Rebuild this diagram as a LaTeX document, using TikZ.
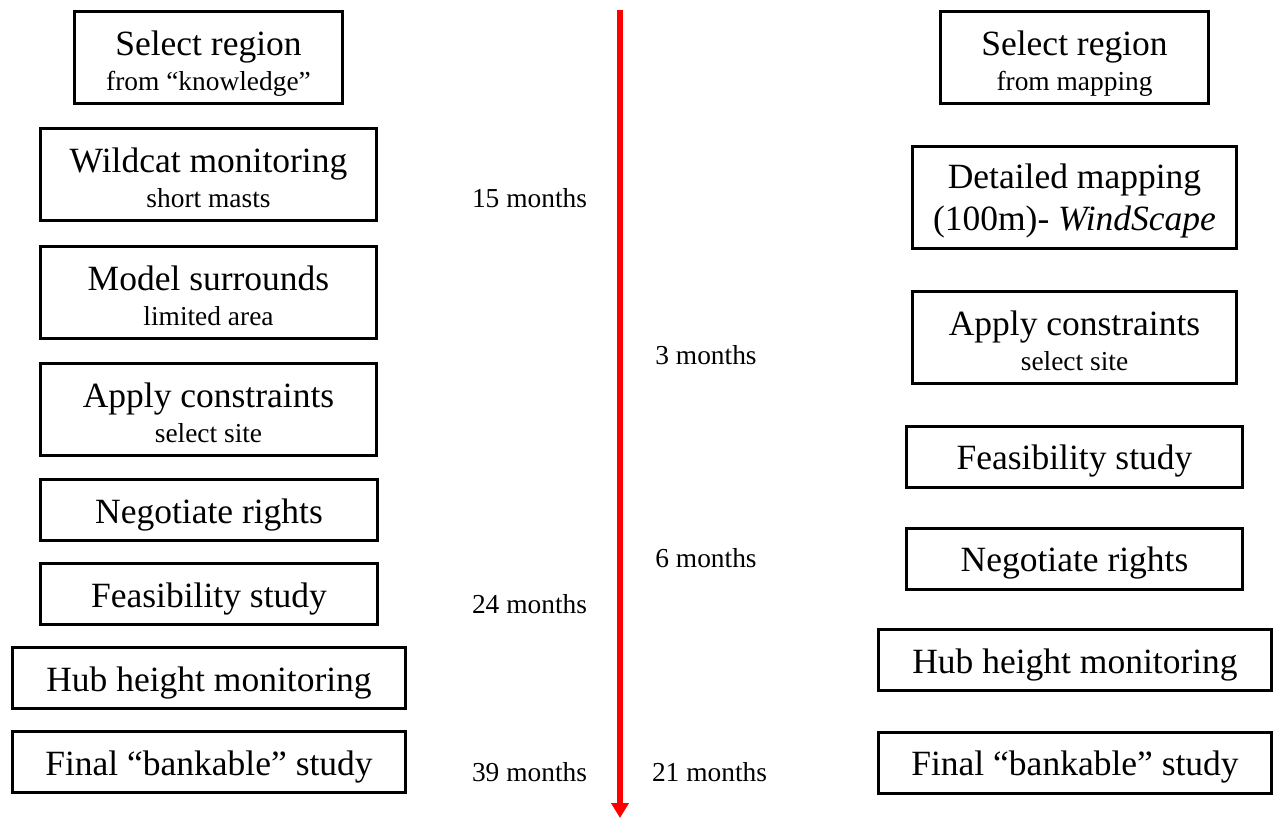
\documentclass[tikz,border=0pt]{standalone}
\usepackage{fontspec}
\setmainfont{Liberation Serif}
\usetikzlibrary{arrows.meta}
\newcommand{\subsz}{\fontsize{27.4}{35}\selectfont}
\begin{document}
\begin{tikzpicture}[x=1pt,y=-1pt,
  box/.style={draw=black,line width=3pt,inner sep=0pt,align=center,
    font=\fontsize{35.5}{35}\selectfont},
  onebox/.style={box,minimum height=61pt,text height=26pt,text depth=0pt},
  twobox/.style={box,text height=65pt,text depth=0pt},
  lab/.style={anchor=base,inner sep=0pt,font=\fontsize{27.4}{30}\selectfont},
  timeline/.style={draw=red,line width=6pt,-{Triangle[length=15pt,width=17pt]}}]
\useasboundingbox (0,0) rectangle (1279,819);
% left column
\node[twobox,minimum width=268pt,minimum height=92pt] (L1) at (208.5,57.5) {Select region\\{\subsz from “knowledge”}};
\node[twobox,minimum width=336pt,minimum height=92pt] (L2) at (208.5,174.5) {Wildcat monitoring\\{\subsz short masts}};
\node[twobox,minimum width=336pt,minimum height=92pt] (L3) at (208.5,292.5) {Model surrounds\\{\subsz limited area}};
\node[twobox,minimum width=336pt,minimum height=92pt] (L4) at (208.5,409.5) {Apply constraints\\{\subsz select site}};
\node[onebox,minimum width=337pt] (L5) at (209,510) {Negotiate rights};
\node[onebox,minimum width=337pt] (L6) at (209,594) {Feasibility study};
\node[onebox,minimum width=393pt] (L7) at (209,678) {Hub height monitoring};
\node[onebox,minimum width=393pt] (L8) at (209,762) {Final “bankable” study};
% right column
\node[twobox,minimum width=268pt,minimum height=92pt] (R1) at (1074.5,57.5) {Select region\\{\subsz from mapping}};
\node[twobox,minimum width=324pt,minimum height=102pt] (R2) at (1074.5,197.5) {Detailed mapping\\[7pt](100m)- \textit{WindScape}};
\node[twobox,minimum width=324pt,minimum height=92pt] (R3) at (1074.5,337.5) {Apply constraints\\{\subsz select site}};
\node[onebox,minimum width=336pt] (R4) at (1074.5,456.5) {Feasibility study};
\node[onebox,minimum width=336pt] (R5) at (1074.5,558.5) {Negotiate rights};
\node[onebox,minimum width=393pt] (R6) at (1075,660) {Hub height monitoring};
\node[onebox,minimum width=393pt] (R7) at (1075,762.5) {Final “bankable” study};
% timeline
\coordinate (top) at (620,10);
\coordinate (bot) at (620,818);
\draw[timeline] (top) -- (bot);
% durations
\node[lab] (m15) at (529.5,207) {15 months};
\node[lab] (m3) at (706,364) {3 months};
\node[lab] (m6) at (706,567) {6 months};
\node[lab] (m24) at (529.5,613) {24 months};
\node[lab] (m39) at (529.5,781) {39 months};
\node[lab] (m21) at (709.5,781) {21 months};
\end{tikzpicture}
\end{document}
